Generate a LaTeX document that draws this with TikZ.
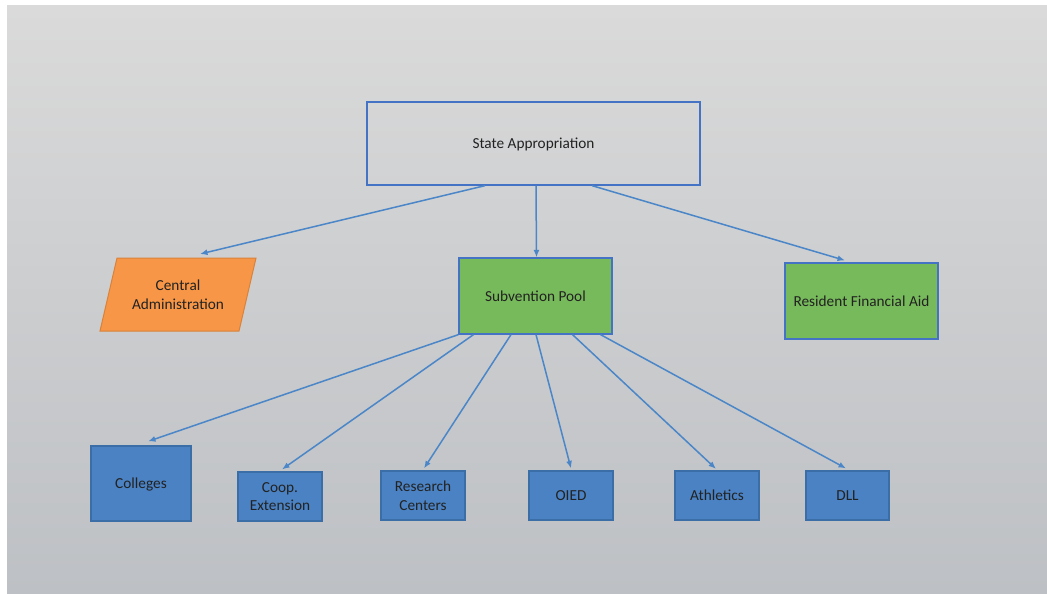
\documentclass[tikz,border=0pt]{standalone}
\usepackage{fontspec}
\setmainfont{Carlito}
\usetikzlibrary{arrows.meta,calc}

\definecolor{bgtop}{HTML}{DADADA}
\definecolor{bgmid}{HTML}{D6D6D7}
\definecolor{bgbot}{HTML}{BDC0C4}
\definecolor{lineblue}{HTML}{4A86C8}
\definecolor{edgeblue}{HTML}{4472C4}
\definecolor{boxblue}{HTML}{4A82C3}
\definecolor{boxedge}{HTML}{3B6DA6}
\definecolor{boxgreen}{HTML}{77BA5B}
\definecolor{boxorange}{HTML}{F79646}
\definecolor{orangeedge}{HTML}{D9823C}
\definecolor{ink}{HTML}{222222}

\tikzset{
  lbl/.style={text=ink, font=\fontsize{15.3}{18.5}\selectfont, align=center, inner sep=0pt, text depth=0pt},
  topbox/.style={lbl, draw=edgeblue, line width=1.3pt, minimum width=333pt, minimum height=83pt},
  greenbox/.style={lbl, draw=edgeblue, fill=boxgreen, line width=1.2pt, minimum width=153pt, minimum height=76pt},
  unitbox/.style={lbl, draw=boxedge, fill=boxblue, line width=1.2pt, minimum height=49pt, minimum width=84pt},
  arr/.style={draw=lineblue, line width=1.5pt, -{Latex[length=7.5pt,width=6pt]}}
}

\begin{document}
\begin{tikzpicture}[x=1pt,y=-1pt]
  \useasboundingbox (0,0) rectangle (1047,594);
  % page background with soft vertical gradient
  \fill[white] (0,0) rectangle (1047,594);
  \shade[top color=bgtop, middle color=bgmid, bottom color=bgbot] (7,6) rectangle (1047,594);

  % top level
  \node[topbox] (sa) at (533.5,143.5) {State Appropriation};

  % second level
  \draw[draw=orangeedge, fill=boxorange, line width=1pt]
    (100,331) -- (117,258) -- (256,258) -- (239,331) -- cycle;
  \node[lbl] (ca) at (178,294.5) {Central\\Administration};
  \coordinate (catop) at (200,254);
  \node[greenbox] (sp) at (535.5,296) {Subvention Pool};
  \node[greenbox] (rfa) at (861.5,301) {Resident Financial Aid};

  % third level
  \node[unitbox, minimum width=100pt, minimum height=75pt] (col) at (141,483.5) {Colleges};
  \node[unitbox] (coop) at (280,496.5) {Coop.\\Extension};
  \node[unitbox] (rc) at (423,495.5) {Research\\Centers};
  \node[unitbox] (oied) at (571,495.5) {OIED};
  \node[unitbox] (ath) at (717,495.5) {Athletics};
  \node[unitbox, minimum width=83pt] (dll) at (847.5,495.5) {DLL};

  % connectors from the appropriation
  \draw[arr] ([xshift=-48.5pt]sa.south) -- (catop);
  \draw[arr] ([xshift=2.5pt]sa.south) -- ([xshift=1pt]sp.north);
  \draw[arr] ([xshift=58.5pt]sa.south) -- ([xshift=-16.5pt,yshift=2pt]rfa.north);

  % connectors from the subvention pool
  \draw[arr] ([xshift=-77pt]sp.south) -- ([xshift=7pt,yshift=4pt]col.north);
  \draw[arr] ([xshift=-62pt]sp.south) -- ([xshift=2pt,yshift=2pt]coop.north);
  \draw[arr] ([xshift=-24.5pt]sp.south) -- ([xshift=1pt,yshift=2pt]rc.north);
  \draw[arr] ([xshift=0.5pt]sp.south) -- ([yshift=2pt]oied.north);
  \draw[arr] ([xshift=37pt]sp.south) -- ([xshift=-1pt,yshift=1.5pt]ath.north);
  \draw[arr] ([xshift=65pt]sp.south) -- ([xshift=-1.5pt,yshift=2pt]dll.north);
\end{tikzpicture}
\end{document}
